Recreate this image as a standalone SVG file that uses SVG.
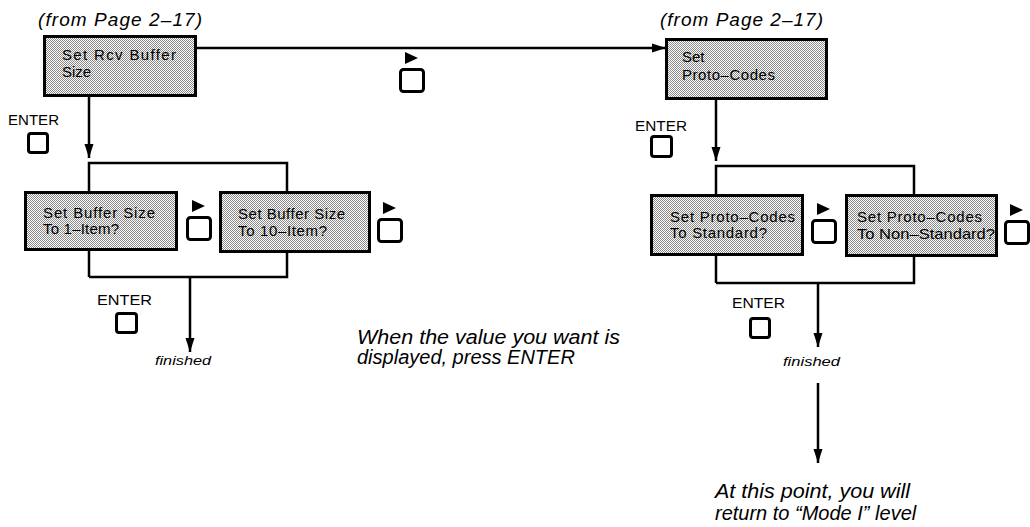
<svg xmlns="http://www.w3.org/2000/svg" width="1030" height="527" viewBox="0 0 1030 527">
<defs>
<pattern id="dots" width="2" height="2" patternUnits="userSpaceOnUse">
<rect width="2" height="2" fill="#ffffff"/>
<rect x="0" y="0" width="1" height="1" fill="#8a8a8a"/>
<rect x="1" y="1" width="1" height="1" fill="#8a8a8a"/>
</pattern>
<marker id="ah" markerUnits="userSpaceOnUse" markerWidth="15" markerHeight="10" refX="14" refY="5" orient="auto">
<path d="M0,0.5 L14,5 L0,9.5 z" fill="#000"/>
</marker>
<g id="key">
<path d="M6,-16 L6,-4 L19,-10 z" fill="#000"/>
<rect x="1.5" y="1.5" width="23" height="22" rx="3" fill="none" stroke="#000" stroke-width="3"/>
</g>
</defs>
<style>
.box{fill:url(#dots);stroke:#000;stroke-width:3}
.bt{font-family:"Liberation Sans",Arial,sans-serif;font-size:15px;fill:#000}
.it{font-family:"Liberation Sans",Arial,sans-serif;font-style:italic;fill:#000}
.ent{font-family:"Liberation Sans",Arial,sans-serif;font-size:15px;fill:#000}
.sq{fill:none;stroke:#000;stroke-width:3}
.ln{fill:none;stroke:#000;stroke-width:2.5}
</style>
<rect width="1030" height="527" fill="#fff"/>

<g id="connectors">
<line class="ln" x1="196" y1="48" x2="666" y2="48" marker-end="url(#ah)"/>
<line class="ln" x1="89" y1="96" x2="89" y2="158" marker-end="url(#ah)"/>
<polyline class="ln" points="89,277 89,163 287,163 287,277 89,277"/>
<line class="ln" x1="190" y1="277" x2="190" y2="352" marker-end="url(#ah)"/>
<line class="ln" x1="716" y1="99" x2="716" y2="161" marker-end="url(#ah)"/>
<polyline class="ln" points="716,283 716,166 914,166 914,283 716,283"/>
<line class="ln" x1="818" y1="283" x2="818" y2="347" marker-end="url(#ah)"/>
<line class="ln" x1="818" y1="383" x2="818" y2="463" marker-end="url(#ah)"/>
</g>

<g id="rcv-buffer">
<rect class="box" x="44.5" y="36.5" width="151" height="59"/>
<text class="bt" x="62" y="60" textLength="114" lengthAdjust="spacing">Set Rcv Buffer</text>
<text class="bt" x="62" y="77">Size</text>
</g>

<g id="buf-1item">
<rect class="box" x="25.5" y="192.5" width="151" height="57"/>
<text class="bt" x="43" y="218" textLength="112" lengthAdjust="spacing">Set Buffer Size</text>
<text class="bt" x="43" y="234" textLength="76" lengthAdjust="spacing">To 1–Item?</text>
</g>

<g id="buf-10item">
<rect class="box" x="220.5" y="192.5" width="149" height="59"/>
<text class="bt" x="238" y="219" textLength="107" lengthAdjust="spacing">Set Buffer Size</text>
<text class="bt" x="238" y="236" textLength="89" lengthAdjust="spacing">To 10–Item?</text>
</g>

<g id="proto-codes">
<rect class="box" x="666.5" y="39.5" width="160" height="59"/>
<text class="bt" x="682" y="62">Set</text>
<text class="bt" x="682" y="80" textLength="93" lengthAdjust="spacing">Proto–Codes</text>
</g>

<g id="proto-std">
<rect class="box" x="651.5" y="195.5" width="151" height="59"/>
<text class="bt" x="670" y="222" textLength="125" lengthAdjust="spacing">Set Proto–Codes</text>
<text class="bt" x="670" y="238" textLength="97" lengthAdjust="spacing">To Standard?</text>
</g>

<g id="proto-nonstd">
<rect class="box" x="846.5" y="195.5" width="150" height="60"/>
<text class="bt" x="857" y="222" textLength="125" lengthAdjust="spacing">Set Proto–Codes</text>
<text class="bt" x="857" y="239" textLength="138" lengthAdjust="spacingAndGlyphs">To Non–Standard?</text>
</g>

<g id="keys">
<use href="#key" x="399" y="68"/>
<use href="#key" x="186" y="216"/>
<use href="#key" x="377" y="218"/>
<use href="#key" x="811" y="219"/>
<use href="#key" x="1004" y="220"/>
<rect class="sq" x="28.5" y="133.5" width="19" height="19" rx="2.5"/>
<rect class="sq" x="651.5" y="136.5" width="20" height="20" rx="2.5"/>
<rect class="sq" x="116.5" y="313.5" width="20" height="19" rx="2.5"/>
<rect class="sq" x="750.5" y="318.5" width="19" height="19" rx="2.5"/>
</g>

<g id="labels">
<text class="it" x="38" y="26" font-size="19" textLength="164" lengthAdjust="spacing">(from Page 2–17)</text>
<text class="it" x="660" y="26" font-size="19" textLength="163" lengthAdjust="spacing">(from Page 2–17)</text>
<text class="ent" x="8" y="125" textLength="51" lengthAdjust="spacingAndGlyphs">ENTER</text>
<text class="ent" x="635" y="131" textLength="52" lengthAdjust="spacingAndGlyphs">ENTER</text>
<text class="ent" x="97" y="305" textLength="55" lengthAdjust="spacingAndGlyphs">ENTER</text>
<text class="ent" x="732" y="308" textLength="53" lengthAdjust="spacingAndGlyphs">ENTER</text>
<text class="it" x="155" y="365" font-size="13" textLength="56" lengthAdjust="spacingAndGlyphs">finished</text>
<text class="it" x="783" y="366" font-size="13" textLength="57" lengthAdjust="spacingAndGlyphs">finished</text>
<text class="it" x="357" y="344" font-size="20" textLength="263" lengthAdjust="spacingAndGlyphs">When the value you want is</text>
<text class="it" x="357" y="364" font-size="20">displayed, press ENTER</text>
<text class="it" x="715" y="498" font-size="20" textLength="195" lengthAdjust="spacingAndGlyphs">At this point, you will</text>
<text class="it" x="715" y="520" font-size="20">return to “Mode I” level</text>
</g>
</svg>
